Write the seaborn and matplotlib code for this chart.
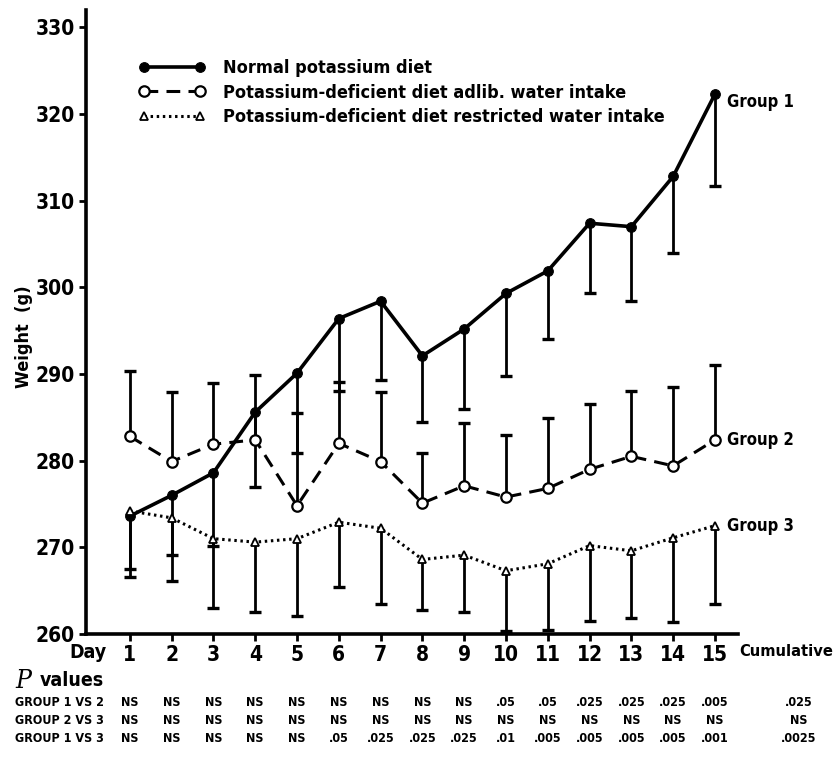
import matplotlib
matplotlib.use("Agg")
import matplotlib.pyplot as plt
import matplotlib.transforms as mtrans
import seaborn as sns
import numpy as np
import pandas as pd

days = np.arange(1, 16)

# group means (g)
g1_mean = [273.6, 276.0, 278.6, 285.6, 290.1, 296.4, 298.4, 292.1, 295.2, 299.3, 301.9, 307.4, 307.0, 312.8, 322.3]
g2_mean = [282.8, 279.9, 281.9, 282.4, 274.8, 282.0, 279.9, 275.1, 277.1, 275.8, 276.8, 279.0, 280.5, 279.4, 282.4]
g3_mean = [274.2, 273.4, 271.0, 270.6, 271.0, 272.9, 272.2, 268.6, 269.1, 267.3, 268.1, 270.2, 269.6, 271.1, 272.5]

# one-sided error bar ends
g1_low = [267.5, 269.1, 270.1, 277.0, 280.9, 288.0, 289.3, 284.5, 286.0, 289.8, 294.0, 299.4, 298.4, 304.0, 311.7]
g2_high = [290.3, 287.9, 289.0, 289.9, 285.5, 289.1, 287.9, 280.9, 284.4, 283.0, 284.9, 286.5, 288.0, 288.5, 291.0]
g3_low = [266.6, 266.1, 263.0, 262.5, 262.1, 265.4, 263.5, 262.8, 262.5, 260.3, 260.5, 261.5, 261.9, 261.4, 263.5]

labels = ["Normal potassium diet",
          "Potassium-deficient diet adlib. water intake",
          "Potassium-deficient diet restricted water intake"]
group_names = ["Group 1", "Group 2", "Group 3"]

row_labels = ["GROUP 1 VS 2", "GROUP 2 VS 3", "GROUP 1 VS 3"]
p_1v2 = ["NS"] * 9 + [".05", ".05", ".025", ".025", ".025", ".005"]
p_2v3 = ["NS"] * 15
p_1v3 = ["NS"] * 5 + [".05", ".025", ".025", ".025", ".01", ".005", ".005", ".005", ".005", ".001"]
p_cum = [".025", "NS", ".0025"]

sns.set_style("ticks")
plt.rcParams['font.family'] = ['DejaVu Sans']
plt.rcParams['font.stretch'] = 'condensed'
plt.rcParams['font.weight'] = 'bold'
for k in ['text.color', 'axes.labelcolor', 'xtick.color', 'ytick.color', 'axes.edgecolor']:
    plt.rcParams[k] = 'black'

fig = plt.figure(figsize=(8.38, 7.6), dpi=100)
ax = fig.add_axes([0.1026, 0.1658, 0.778, 0.821])

df = pd.DataFrame({"day": np.tile(days, 3),
                   "weight": g1_mean + g2_mean + g3_mean,
                   "group": np.repeat(labels, 15)})

styles = [dict(linestyle='-', lw=2.6, marker='o', ms=7, mfc='black'),
          dict(linestyle=(0, (4.5, 2.7)), lw=2.2, marker='o', ms=7.5, mfc='white', mew=1.6),
          dict(linestyle=(0, (0.8, 1.2)), lw=2.2, marker='^', ms=6, mfc='white', mew=1.3)]

# error bars: stems and caps
for mean, end in [(g1_mean, g1_low), (g2_mean, g2_high), (g3_mean, g3_low)]:
    ax.vlines(days, mean, end, color='black', lw=2.0, zorder=2)
    ax.plot(days, end, linestyle='none', marker='_', ms=9, mew=2.4, color='black', zorder=2)

for lab, st in zip(labels, styles):
    sns.lineplot(data=df[df.group == lab], x="day", y="weight", ax=ax, color='black',
                 mec='black', label=lab, zorder=3, **st)

for name, mean, dy in zip(group_names, [g1_mean, g2_mean, g3_mean], [-6, 0, 0]):
    ax.annotate(name, (days[-1], mean[-1]), xytext=(9, dy), textcoords='offset points',
                ha='left', va='center', fontsize=12, fontweight='bold')

ax.set_xlim(-0.05, 15.55)
ax.set_ylim(260, 332)
ax.set_yticks(np.arange(260, 331, 10))
ax.set_xticks(days)
ax.tick_params(axis='both', labelsize=15, width=2, length=5, pad=3)
for t in ax.get_xticklabels() + ax.get_yticklabels():
    t.set_fontweight('bold')
sns.despine(ax=ax)
for s in ['left', 'bottom']:
    ax.spines[s].set_linewidth(2.6)
ax.set_xlabel("")
ax.set_ylabel("Weight  (g)", fontsize=13, fontweight='bold')
ax.yaxis.set_label_coords(-0.082, 0.476)

leg = ax.legend(loc='upper left', bbox_to_anchor=(0.08, 0.921), frameon=False,
                numpoints=2, handlelength=3.7, handletextpad=1.0, labelspacing=0.35,
                prop=dict(size=13, weight='bold', stretch='condensed'), borderaxespad=0, borderpad=0)

# x-axis extra labels and p value table
tr = mtrans.blended_transform_factory(ax.transData, fig.transFigure)
ax.text(0, 1 - 652 / 760, "Day", transform=tr, ha='center', va='center', fontsize=14, fontweight='bold')
ax.text(15.58, 1 - 652 / 760, "Cumulative", transform=tr, ha='left', va='center', fontsize=11.8, fontweight='bold')

fig.text(15 / 838, 1 - 680 / 760, "P", fontsize=19, style='italic', fontweight='normal',
         ha='left', va='center', family='DejaVu Serif')
fig.text(40 / 838, 1 - 681 / 760, "values", fontsize=14, fontweight='bold', ha='left', va='center')

rows_y = [703, 720, 738]
for lab, vals, cum, yy in zip(row_labels, [p_1v2, p_2v3, p_1v3], p_cum, rows_y):
    fig.text(15 / 838, 1 - yy / 760, lab, fontsize=9, fontweight='bold', ha='left', va='center')
    for d, v in zip(days, vals):
        ax.text(d, 1 - yy / 760, v, transform=tr, ha='center', va='center', fontsize=9, fontweight='bold')
    ax.text(17.0, 1 - yy / 760, cum, transform=tr, ha='center', va='center', fontsize=9, fontweight='bold')

fig.savefig("out.png", dpi=100)
